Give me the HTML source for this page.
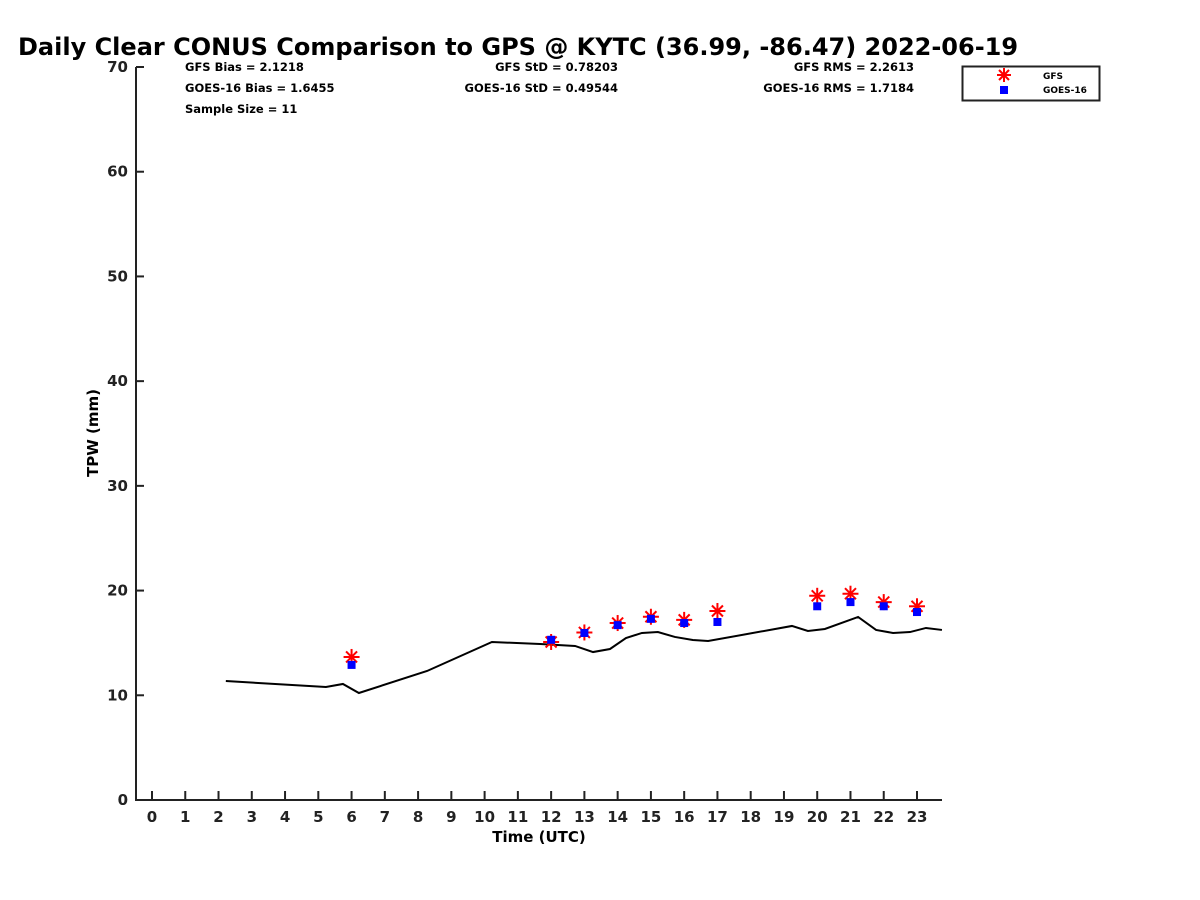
<!DOCTYPE html>
<html><head><meta charset="utf-8"><style>
body{margin:0;background:#fff}
svg{display:block;font-family:"DejaVu Sans","Liberation Sans",sans-serif;font-weight:bold}
</style></head><body>
<svg id="chart" width="1200" height="900" viewBox="0 0 1200 900">
<text x="18" y="55" font-size="24" fill="#000">Daily Clear CONUS Comparison to GPS @ KYTC (36.99, -86.47) 2022-06-19</text>
<g font-size="11.5" fill="#000">
<text x="185" y="71">GFS Bias = 2.1218</text>
<text x="185" y="92">GOES-16 Bias = 1.6455</text>
<text x="185" y="113">Sample Size = 11</text>
<text x="618" y="71" text-anchor="end">GFS StD = 0.78203</text>
<text x="618" y="92" text-anchor="end">GOES-16 StD = 0.49544</text>
<text x="914" y="71" text-anchor="end">GFS RMS = 2.2613</text>
<text x="914" y="92" text-anchor="end">GOES-16 RMS = 1.7184</text>
</g>
<g>
<rect x="962.5" y="66.5" width="137" height="34" fill="#fff" stroke="#222" stroke-width="2"/>
<g stroke="red" stroke-width="2">
<line x1="997" y1="75" x2="1011" y2="75"/><line x1="1004" y1="68" x2="1004" y2="82"/><line x1="999" y1="70" x2="1009" y2="80"/><line x1="999" y1="80" x2="1009" y2="70"/></g>
<rect x="1000" y="86" width="8" height="8" fill="blue"/>
<text x="1043" y="79" font-size="9">GFS</text>
<text x="1043" y="93" font-size="9">GOES-16</text>
</g>
<text transform="translate(98,433) rotate(-90)" text-anchor="middle" font-size="15">TPW (mm)</text>
<text x="539" y="842" text-anchor="middle" font-size="15">Time (UTC)</text>
<g id="axes"></g>
<g id="marks"></g>
</svg>
<script>
const yTicks=[0,10,20,30,40,50,60,70];
const xTicks=[0,1,2,3,4,5,6,7,8,9,10,11,12,13,14,15,16,17,18,19,20,21,22,23];
const gpsHours=[2.22,5.23,5.74,6.22,8.27,10.22,11.67,12.72,13.26,13.77,14.25,14.73,15.21,15.72,16.26,16.72,19.24,19.72,20.23,21.23,21.77,22.28,22.79,23.27,23.75];
const gpsTPW=[11.36,10.79,11.08,10.22,12.32,15.09,14.9,14.71,14.13,14.42,15.47,15.95,16.04,15.57,15.28,15.18,16.62,16.14,16.33,17.48,16.24,15.95,16.04,16.43,16.24];
const obsHours=[6,12,13,14,15,16,17,20,21,22,23];
const gfsTPW=[13.66,15.09,16.0,16.9,17.5,17.2,18.05,19.5,19.7,18.9,18.5];
const goesTPW=[12.9,15.3,15.95,16.7,17.3,16.9,17.0,18.5,18.9,18.5,17.95];
const NS='http://www.w3.org/2000/svg';
const X0=136,X1=942,Y0=800,Y1=67;
function xs(h){return 152+h*(917-152)/23;}
function ys(v){return Y0-v*(Y0-Y1)/70;}
function mk(tag,attrs,parent){const e=document.createElementNS(NS,tag);for(const k in attrs)e.setAttribute(k,attrs[k]);parent.appendChild(e);return e;}
const axes=document.getElementById('axes'),marks=document.getElementById('marks');
let e=mk('path',{d:`M${X0} ${Y1}V${Y0}H${X1}`,fill:'none',stroke:'#222','stroke-width':2},axes);


yTicks.forEach(v=>{
 const y=ys(v);
 let t=mk('line',{x1:X0,x2:X0+8,y1:y,y2:y,stroke:'#222','stroke-width':2},axes);
 
 
 let l=mk('text',{x:X0-8,y:y+5,'text-anchor':'end','font-size':15,fill:'#222'},axes);
 l.textContent=v;
 
 
});
xTicks.forEach(h=>{
 const x=xs(h);
 let t=mk('line',{x1:x,x2:x,y1:Y0,y2:Y0-9,stroke:'#222','stroke-width':2},axes);
 
 
 let l=mk('text',{x:x,y:Y0+22,'text-anchor':'middle','font-size':15,fill:'#222'},axes);
 l.textContent=h;
 
 
});
let line=mk('polyline',{points:gpsHours.map((h,i)=>xs(h)+','+ys(gpsTPW[i])).join(' '),fill:'none',stroke:'#000','stroke-width':2},marks);


obsHours.forEach((h,i)=>{
 const x=xs(h),y=ys(gfsTPW[i]);
 const g=mk('g',{stroke:'red','stroke-width':2},marks);
 
 
 mk('line',{x1:x-8,x2:x+8,y1:y,y2:y},g);
 mk('line',{x1:x,x2:x,y1:y-8,y2:y+8},g);
 mk('line',{x1:x-5.5,x2:x+5.5,y1:y-5.5,y2:y+5.5},g);
 mk('line',{x1:x-5.5,x2:x+5.5,y1:y+5.5,y2:y-5.5},g);
});
obsHours.forEach((h,i)=>{
 const x=xs(h),y=ys(goesTPW[i]);
 const r=mk('rect',{x:x-4,y:y-4,width:8,height:8,fill:'blue'},marks);
 
 
});
</script>
</body></html>
